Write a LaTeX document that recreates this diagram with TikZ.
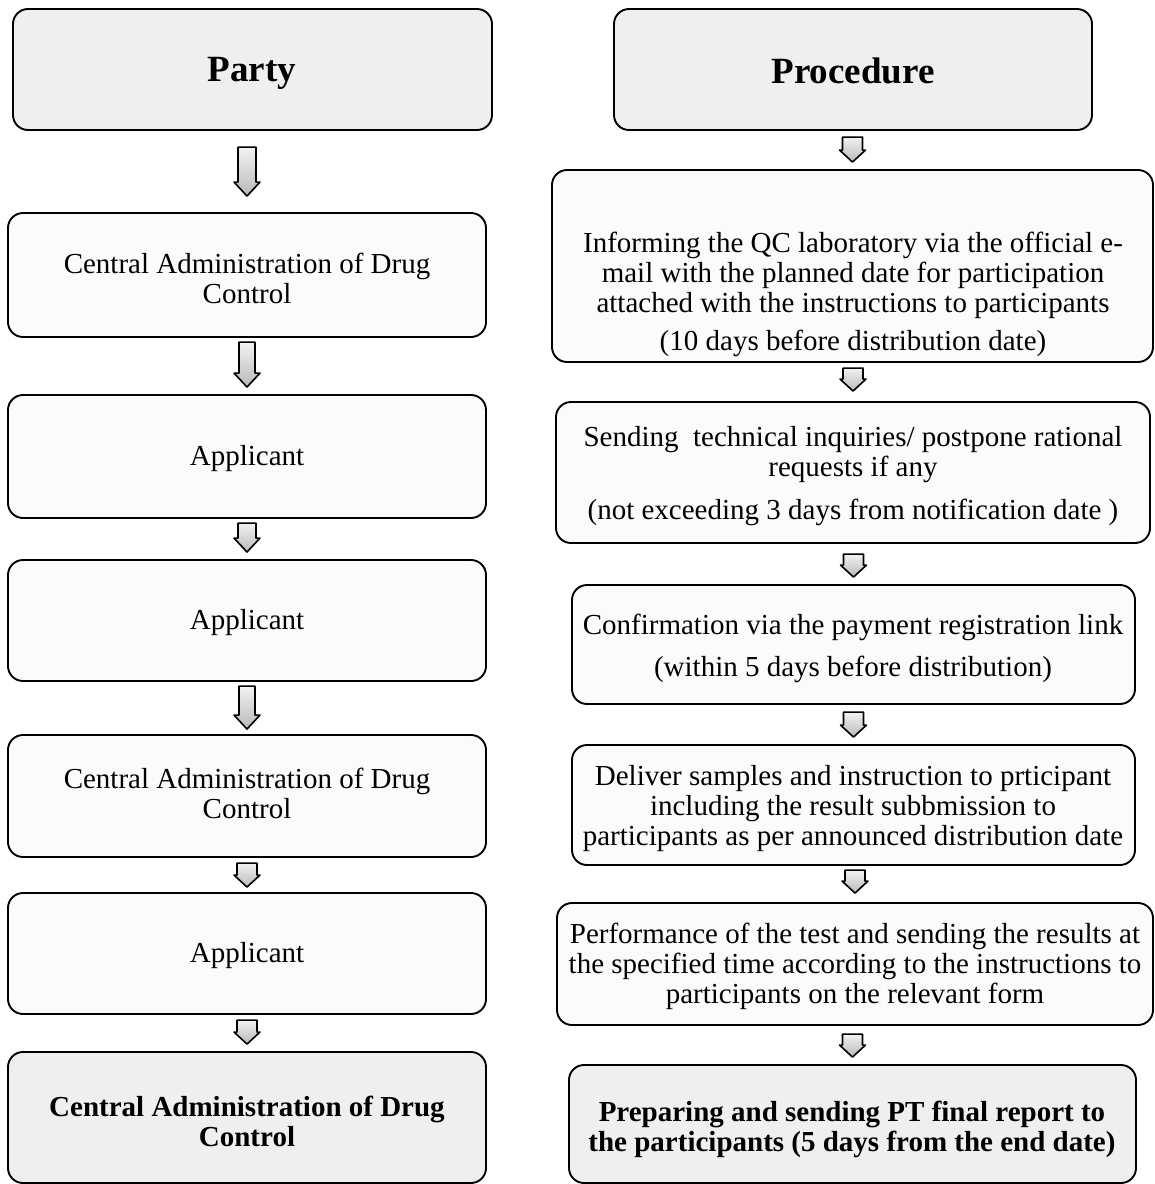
\documentclass[tikz,border=0pt]{standalone}
\usepackage{fontspec}
\setmainfont{Liberation Serif}
\usetikzlibrary{calc}
\definecolor{boxgray}{HTML}{EFEFEF}
\definecolor{boxwhite}{HTML}{FBFBFB}
\tikzset{
  box/.style={draw=black, line width=1.9pt, rounded corners=15pt, fill=boxwhite, inner sep=0pt},
  graybox/.style={box, fill=boxgray},
  txt/.style={align=center, font=\fontsize{29}{30}\selectfont, inner sep=0pt},
  btxt/.style={align=center, font=\fontsize{29}{30}\selectfont\bfseries, inner sep=0pt},
  headtxt/.style={align=center, font=\fontsize{37}{40}\selectfont\bfseries, inner sep=0pt},
  blockarr/.style={draw=black, line width=1.6pt, line join=round, top color=gray!10, bottom color=gray!55},
}
% #1 lower node, #2 gap tip->node, #3 length, #4 shaft half width, #5 head length, #6 head half width
\newcommand\blkarr[6]{%
  \draw[blockarr] ($(#1.north)+(-#4,-#2-#3)$) -- ($(#1.north)+(#4,-#2-#3)$)
    -- ($(#1.north)+(#4,-#2-#5)$) -- ($(#1.north)+(#6,-#2-#5)$)
    -- ($(#1.north)+(0,-#2)$) -- ($(#1.north)+(-#6,-#2-#5)$)
    -- ($(#1.north)+(-#4,-#2-#5)$) -- cycle;}
\begin{document}
\begin{tikzpicture}[x=1pt,y=-1pt]
\useasboundingbox[fill=white] (0,0) rectangle (1155,1184);

% ---------- left column ----------
\node[graybox, minimum width=479pt, minimum height=121pt] (party) at (252.5,69.5) {};
\node[box, minimum width=478pt, minimum height=124pt] (cadcA) at (247,275) {};
\node[box, minimum width=478pt, minimum height=123pt] (appA) at (247,456.5) {};
\node[box, minimum width=478pt, minimum height=121pt] (appB) at (247,620.5) {};
\node[box, minimum width=478pt, minimum height=122pt] (cadcB) at (247,796) {};
\node[box, minimum width=478pt, minimum height=121pt] (appC) at (247,953.5) {};
\node[graybox, minimum width=478pt, minimum height=131pt] (cadcC) at (247,1117.5) {};

\node[headtxt] (tparty) at (252,73) {Party};
\node[txt] (tcadcA) at (247,278) {Central Administration of Drug\\Control};
\node[txt] (tappA) at (247,459) {Applicant};
\node[txt] (tappB) at (247,623) {Applicant};
\node[txt] (tcadcB) at (247,793) {Central Administration of Drug\\Control};
\node[txt] (tappC) at (247,956) {Applicant};
\node[btxt] (tcadcC) at (247,1121) {Central Administration of Drug\\Control};

\blkarr{cadcA}{16}{49}{9}{14}{13}
\blkarr{appA}{7}{45}{8}{14}{13}
\blkarr{appB}{7}{29}{9}{14}{13}
\blkarr{cadcB}{5}{43}{8}{14}{13}
\blkarr{appC}{5}{24}{10}{12}{13}
\blkarr{cadcC}{7}{24}{10}{12}{13}

% ---------- right column ----------
\node[graybox, minimum width=478pt, minimum height=121pt] (proc) at (853,69.5) {};
\node[box, minimum width=601pt, minimum height=192pt] (rA) at (852.5,266) {};
\node[box, minimum width=594pt, minimum height=141pt] (rB) at (853,472.5) {};
\node[box, minimum width=563pt, minimum height=119pt] (rC) at (853.5,644.5) {};
\node[box, minimum width=563pt, minimum height=120pt] (rD) at (853.5,805) {};
\node[box, minimum width=596pt, minimum height=122pt] (rE) at (855,964) {};
\node[graybox, minimum width=567pt, minimum height=118pt] (rF) at (852.5,1124) {};

\node[headtxt] (tproc) at (853,71) {Procedure};
\node[txt] (trA) at (853,294) {Informing the QC laboratory via the official e-\\mail with the planned date for participation\\attached with the instructions to participants\\[8pt](10 days before distribution date)};
\node[txt] (trB) at (853,476) {Sending\ \ technical inquiries/ postpone rational\\requests if any\\[13pt](not exceeding 3 days from notification date )};
\node[txt] (trC) at (853,648) {Confirmation via the payment registration link\\[12pt](within 5 days before distribution)};
\node[txt] (trD) at (853,809) {Deliver samples and instruction to prticipant\\including the result subbmission to\\participants as per announced distribution date};
\node[txt] (trE) at (855,966) {Performance of the test and sending the results at\\the specified time according to the instructions to\\participants on the relevant form};
\node[btxt] (trF) at (852,1129) {Preparing and sending PT final report to\\the participants (5 days from the end date)};

\blkarr{rA}{7}{25}{10}{12}{13}
\blkarr{rB}{10}{23}{10}{12}{13}
\blkarr{rC}{7}{23}{10}{12}{13}
\blkarr{rD}{7}{25}{10}{12}{13}
\blkarr{rE}{9}{23}{10}{12}{13}
\blkarr{rF}{7}{23}{10}{12}{13}
\end{tikzpicture}
\end{document}
